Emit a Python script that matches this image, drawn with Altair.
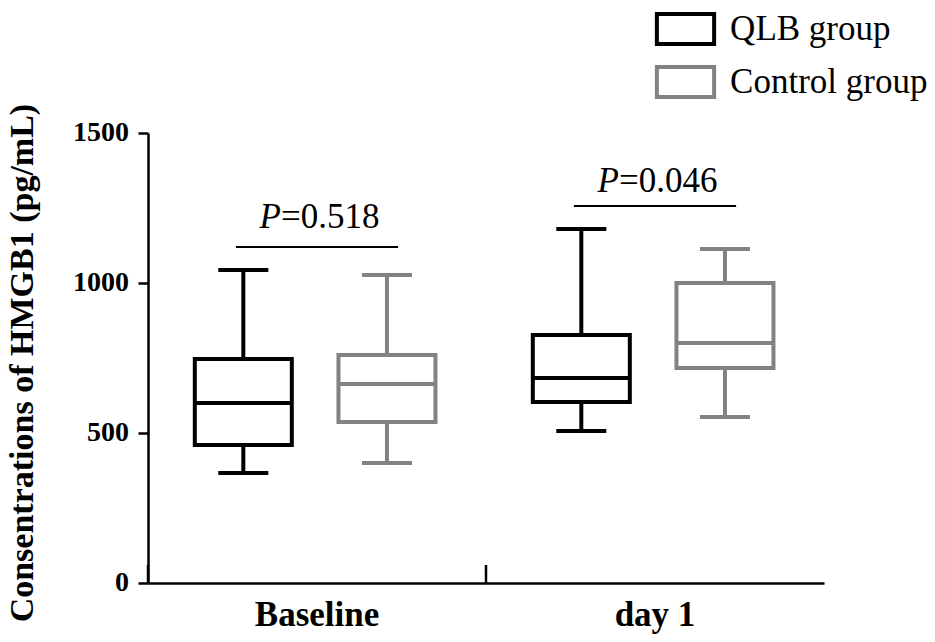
import altair as alt
import pandas as pd

# ---------------- data ----------------
categories = ["Baseline", "day 1"]
groups = ["QLB group", "Control group"]
group_colors = ["#000000", "#828282"]

stat_category = ["Baseline", "Baseline", "day 1", "day 1"]
stat_group = ["QLB group", "Control group", "QLB group", "Control group"]
whisker_min = [367, 400, 507, 553]
quartile1 = [460, 537, 603, 717]
median = [600, 663, 683, 800]
quartile3 = [747, 760, 827, 1000]
whisker_max = [1043, 1027, 1180, 1113]

p_values = ["0.518", "0.046"]
bracket_y = [1120, 1257]
p_text_y = [1183, 1303]

y_ticks = [0, 500, 1000, 1500]
y_title = "Consentrations of  HMGB1 (pg/mL)"

# ---------------- layout helpers ----------------
group_offset = {"QLB group": -0.218, "Control group": 0.207}
box_half = 0.1435
cap_half = 0.074
bracket_half = 0.24

rows = []
for c, g, mn, q1, md, q3, mx in zip(stat_category, stat_group, whisker_min,
                                     quartile1, median, quartile3, whisker_max):
    xc = categories.index(c) + 0.5 + group_offset[g]
    rows.append(dict(category=c, group=g, xc=xc,
                     bl=xc - box_half, br=xc + box_half,
                     cl=xc - cap_half, cr=xc + cap_half,
                     mn=mn, q1=q1, md=md, q3=q3, mx=mx))
df = pd.DataFrame(rows)

ann = pd.DataFrame(dict(
    xc=[i + 0.5 for i in range(len(categories))],
    xl=[i + 0.5 - bracket_half for i in range(len(categories))],
    xr=[i + 0.5 + bracket_half for i in range(len(categories))],
    by=bracket_y, ty=p_text_y,
    rest=["=" + p for p in p_values], P=["P"] * len(p_values),
))

ticks_df = pd.DataFrame(dict(x=list(range(len(categories))), y0=[0] * len(categories),
                             y1=[60] * len(categories)))
ylab_df = pd.DataFrame(dict(v=y_ticks, x=[0] * len(y_ticks), t=[str(v) for v in y_ticks]))
xlab_df = pd.DataFrame(dict(x=[i + 0.5 for i in range(len(categories))],
                            y=[0] * len(categories), t=categories))
ymid = (y_ticks[0] + y_ticks[-1]) / 2
title_df = pd.DataFrame(dict(x=[0], y=[ymid - 17], t=[y_title]))

SERIF = "Liberation Serif"

xscale = alt.Scale(domain=[0, len(categories)], nice=False, zero=False)
yscale = alt.Scale(domain=[y_ticks[0], y_ticks[-1]], nice=False)

x_axis = alt.Axis(values=[i + 0.5 for i in range(len(categories))], labels=False,
                  ticks=False, grid=False, title=None,
                  domainColor="black", domainWidth=2.5)
y_axis = alt.Axis(values=y_ticks, labels=False, grid=False, title=None,
                  domainColor="black", domainWidth=2.5,
                  tickColor="black", tickWidth=2.5, tickSize=10)

stroke = alt.Stroke("group:N", scale=alt.Scale(domain=groups, range=group_colors),
                    legend=alt.Legend(title=None, orient="none", legendX=508.5,
                                      legendY=-133,
                                      symbolType="M-1.06,-0.56H1.06V0.56H-1.06Z",
                                      symbolSize=2916, symbolStrokeWidth=4,
                                      symbolFillColor="white", labelFont=SERIF,
                                      labelFontSize=35, labelColor="black",
                                      labelOffset=15.6, rowPadding=0, padding=0,
                                      labelLimit=400))

base = alt.Chart(df)

whiskers = base.mark_rule(strokeWidth=4).encode(
    x=alt.X("xc:Q", scale=xscale, axis=x_axis),
    y=alt.Y("mn:Q", scale=yscale, axis=y_axis),
    y2="mx:Q", stroke=stroke)
cap_lo = base.mark_rule(strokeWidth=4).encode(
    x=alt.X("cl:Q", scale=xscale), x2="cr:Q", y=alt.Y("mn:Q", scale=yscale), stroke=stroke)
cap_hi = base.mark_rule(strokeWidth=4).encode(
    x=alt.X("cl:Q", scale=xscale), x2="cr:Q", y=alt.Y("mx:Q", scale=yscale), stroke=stroke)
boxes = base.mark_rect(fill="white", strokeWidth=4).encode(
    x=alt.X("bl:Q", scale=xscale), x2="br:Q",
    y=alt.Y("q1:Q", scale=yscale), y2="q3:Q", stroke=stroke)
medians = base.mark_rule(strokeWidth=4).encode(
    x=alt.X("bl:Q", scale=xscale), x2="br:Q", y=alt.Y("md:Q", scale=yscale), stroke=stroke)

xticks = alt.Chart(ticks_df).mark_rule(color="black", strokeWidth=2.5).encode(
    x=alt.X("x:Q", scale=xscale), y=alt.Y("y0:Q", scale=yscale), y2="y1:Q")

brackets = alt.Chart(ann).mark_rule(color="black", strokeWidth=2).encode(
    x=alt.X("xl:Q", scale=xscale), x2="xr:Q", y=alt.Y("by:Q", scale=yscale))
p_italic = alt.Chart(ann).mark_text(font=SERIF, fontSize=35, fontStyle="italic",
                                    align="right", baseline="alphabetic", dx=-36,
                                    color="black").encode(
    x=alt.X("xc:Q", scale=xscale), y=alt.Y("ty:Q", scale=yscale), text="P:N")
p_rest = alt.Chart(ann).mark_text(font=SERIF, fontSize=35, align="left",
                                  baseline="alphabetic", dx=-36, color="black").encode(
    x=alt.X("xc:Q", scale=xscale), y=alt.Y("ty:Q", scale=yscale), text="rest:N")

# axis labels and title drawn as text marks (bold serif)
ylabels = alt.Chart(ylab_df).mark_text(font=SERIF, fontWeight="bold", fontSize=28,
                                       align="right", baseline="middle", dx=-19,
                                       color="black").encode(
    x=alt.X("x:Q", scale=xscale), y=alt.Y("v:Q", scale=yscale), text="t:N")
xlabels = alt.Chart(xlab_df).mark_text(font=SERIF, fontWeight="bold", fontSize=35,
                                       align="center", baseline="alphabetic", dy=43,
                                       color="black").encode(
    x=alt.X("x:Q", scale=xscale), y=alt.Y("y:Q", scale=yscale), text="t:N")
ytitle = alt.Chart(title_df).mark_text(font=SERIF, fontWeight="bold", fontSize=34,
                                       angle=270, align="center", baseline="alphabetic",
                                       dy=-115, color="black").encode(
    x=alt.X("x:Q", scale=xscale), y=alt.Y("y:Q", scale=yscale), text="t:N")

chart = alt.layer(whiskers, cap_lo, cap_hi, boxes, medians, xticks, brackets,
                  p_italic, p_rest, ylabels, xlabels, ytitle).properties(
    width=676, height=450,
    autosize=alt.AutoSizeParams(type="none"),
    padding={"left": 140, "top": 125, "right": 103, "bottom": 51},
    background="white",
).configure_view(stroke=None)

chart.save("out.html", embed_options={"renderer": "svg", "actions": False})
